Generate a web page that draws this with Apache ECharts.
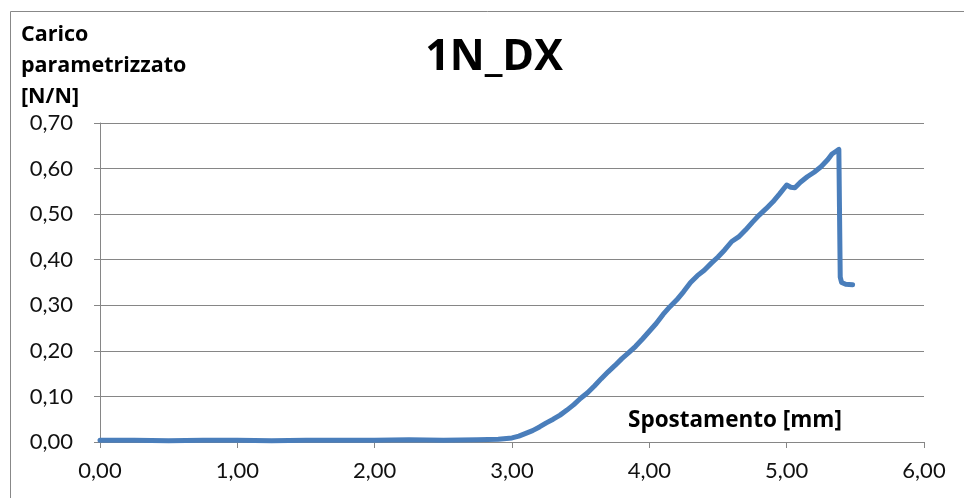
<!DOCTYPE html>
<html>
<head>
<meta charset="utf-8">
<script src="https://cdn.jsdelivr.net/npm/echarts@6/dist/echarts.min.js"></script>
<style>html,body{margin:0;padding:0;background:#fff}#c{width:964px;height:498px}</style>
</head>
<body>
<div id="c"></div>
<script>
const chartTitle = '1N_DX';
const yAxisTitle = 'Carico\nparametrizzato\n[N/N]';
const xAxisTitle = 'Spostamento [mm]';
const displacement = [0.00,0.25,0.50,0.75,1.00,1.25,1.50,1.75,2.00,2.25,2.50,2.75,2.90,3.00,3.05,3.10,3.15,3.20,3.25,3.30,3.35,3.40,3.45,3.50,3.55,3.60,3.65,3.70,3.75,3.80,3.85,3.90,3.95,4.00,4.05,4.10,4.15,4.20,4.25,4.30,4.35,4.40,4.45,4.50,4.55,4.60,4.65,4.70,4.75,4.80,4.85,4.90,4.95,5.00,5.03,5.06,5.10,5.15,5.20,5.25,5.30,5.33,5.36,5.38,5.385,5.39,5.40,5.43,5.48];
const load = [0.004,0.004,0.003,0.004,0.004,0.003,0.004,0.004,0.004,0.005,0.004,0.005,0.006,0.009,0.013,0.019,0.025,0.033,0.042,0.050,0.059,0.070,0.082,0.096,0.108,0.123,0.139,0.154,0.168,0.183,0.196,0.210,0.226,0.243,0.260,0.280,0.297,0.312,0.330,0.350,0.365,0.377,0.392,0.406,0.422,0.440,0.450,0.465,0.482,0.498,0.512,0.527,0.545,0.564,0.559,0.558,0.570,0.582,0.592,0.604,0.620,0.632,0.638,0.642,0.500,0.362,0.350,0.346,0.345];
const fmt = v => v.toFixed(2).replace('.', ',');
const FONT = 'Lato';
const BFONT = 'Open Sans';
const chart = echarts.init(document.getElementById('c'), null, {renderer: 'canvas'});
chart.setOption({
  animation: false,
  backgroundColor: '#fff',
  title: [
    {text: chartTitle, left: 489, top: 31, textAlign: 'center',
     textStyle: {fontFamily: BFONT, fontWeight: 'bold', fontSize: 43, color: '#000'}},
    {text: yAxisTitle, left: 16, top: 14,
     textStyle: {fontFamily: BFONT, fontWeight: 'bold', fontSize: 21.5, lineHeight: 31, color: '#000'}},
    {text: xAxisTitle, left: 623, top: 404,
     textStyle: {fontFamily: BFONT, fontWeight: 'bold', fontSize: 22.5, color: '#000'}}
  ],
  grid: {left: 100, right: 40, top: 123, bottom: 56},
  xAxis: {
    type: 'value', min: 0, max: 6, interval: 1,
    axisLine: {show: true, lineStyle: {color: '#868686', width: 1}},
    axisTick: {show: true, inside: false, length: 6, lineStyle: {color: '#868686'}},
    axisLabel: {formatter: fmt, fontFamily: FONT, fontSize: 22, color: '#111', margin: 18},
    splitLine: {show: false}
  },
  yAxis: {
    type: 'value', min: 0, max: 0.7, interval: 0.1,
    axisLine: {show: true, lineStyle: {color: '#868686', width: 1}},
    axisTick: {show: true, inside: false, length: 6, lineStyle: {color: '#868686'}},
    axisLabel: {formatter: fmt, fontFamily: FONT, fontSize: 22, color: '#111', margin: 27},
    splitLine: {show: true, lineStyle: {color: '#868686', width: 1}}
  },
  series: [{
    type: 'line',
    data: displacement.map((x, i) => [x, load[i]]),
    showSymbol: false,
    lineStyle: {color: '#4A7EBB', width: 5, cap: 'round', join: 'round'},
    itemStyle: {color: '#4A7EBB'}
  }],
  graphic: [
    {type: 'line', shape: {x1: 10.5, y1: 11.5, x2: 10.5, y2: 498}, style: {stroke: '#888', lineWidth: 1}},
    {type: 'line', shape: {x1: 10.5, y1: 11.5, x2: 964, y2: 11.5}, style: {stroke: '#888', lineWidth: 1}}
  ]
});
</script>
</body>
</html>
